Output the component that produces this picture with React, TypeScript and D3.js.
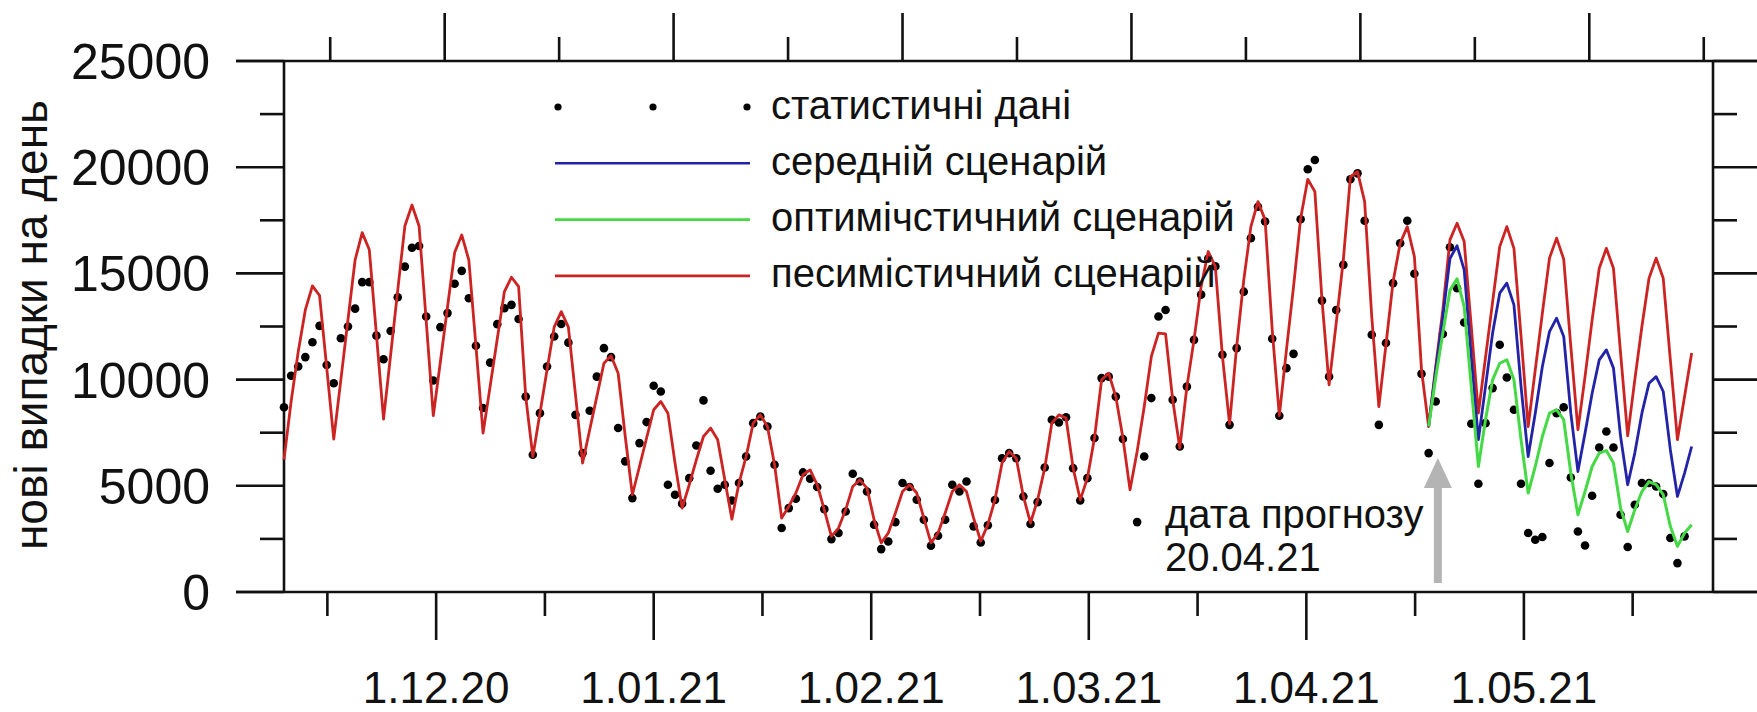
import { useEffect, useRef } from "react";
import * as d3 from "d3";

const WIDTH = 1757;
const HEIGHT = 712;
const FONT = "'Liberation Sans', Arial, sans-serif";

// daily values, day 0 = 10.11.20
const reported: (number | null)[] = [
  8700, 10180, 10620, 11060, 11760, 12530, 10690, 9830, 11950, 12500,
  13340, 14590, 14590, 12070, 10960, 12290, 13880, 15320, 16210, 16290,
  12970, 9960, 12470, 13130, 14510, 15120, 13830, 11590, 8660, 10800,
  12610, 13360, 13520, 12850, 9200, 6460, 8420, 10620, 12030, 12620,
  11740, 8340, 6540, 8530, 10140, 11480, 11060, 7720, 6150, 4420,
  7010, 8000, 9710, 9440, 5050, 4580, 4160, 5360, 6900, 9020,
  5710, 4860, 5050, 4310, 5130, 6380, 7950, 8260, 7790, 5990,
  3010, 3950, 4390, 5630, 5330, 4940, 3900, 2490, 2780, 3790,
  5570, 5200, 4730, 3170, 2020, 2380, 3290, 5130, 4940, 4340,
  3400, 2180, 2650, 3400, 5050, 4730, 5200, 3090, 2330, 3140,
  4330, 6300, 6540, 6300, 4500, 3200, 4230, 5860, 8110, 7980,
  8230, 5830, 4310, 5360, 7250, 10070, 10140, 9200, 7200, null,
  3290, 6380, 9130, 12970, 13280, 9050, 6850, 9670, 11870, 14000,
  15700, 15330, 11170, 7870, 11480, 14140, 16660, 18140, 17440, 11920,
  8300, 10540, 11210, 17550, 19900, 20340, 13720, 10140, 13280, 15400,
  19430, 19710, 17480, 12110, 7870, 11720, 14540, 16420, 17480, 14980,
  10270, 6540, 8970, 12150, 16230, 14300, 12690, 7920, 5100, 7950,
  9600, 11640, 10100, 8580, 5100, 2780, 2460, 2590, 6070, 8420,
  8700, 5390, 2850, 2190, 4530, 6800, 7560, 6800, 3640, 2120,
  4110, 5130, 5130, 4970, 4610, 2540, 1360, 2620,
];

const pessimistic = [
  6230, 8960, 11310, 13280, 14410, 13960, 10590, 7200, 10000, 12830,
  15630, 16920, 16110, 12120, 8140, 11170, 14210, 17230, 18220, 17230,
  12770, 8300, 10850, 13420, 15980, 16810, 15630, 11560, 7480, 9700,
  11920, 14140, 14820, 14380, 9200, 6380, 8420, 10460, 12470, 13200,
  12470, 9280, 6070, 7640, 9200, 10770, 11120, 10300, 7320, 4580,
  5910, 7250, 8580, 8970, 8420, 6070, 3950, 5050, 6220, 7320,
  7720, 7170, 5280, 3430, 5130, 6380, 7950, 8340, 7790, 5990,
  3480, 4030, 4660, 5520, 5750, 5050, 3870, 2620, 3010, 3870,
  4970, 5280, 4890, 3400, 2310, 2780, 3720, 4730, 5050, 4660,
  3480, 2310, 2780, 3720, 4730, 5050, 4730, 3480, 2390, 3170,
  4340, 6070, 6620, 6300, 4500, 3250, 4340, 5830, 7950, 8340,
  8190, 5830, 4340, 5360, 7250, 9990, 10300, 9200, 7250, 4810,
  6620, 8730, 11090, 12190, 12150, 9050, 6780, 9670, 11870, 14380,
  16030, 15320, 11090, 7920, 11560, 14690, 17200, 18380, 17520, 12340,
  8300, 11400, 14380, 17600, 19430, 18850, 13750, 9750, 12660, 15630,
  19550, 19790, 18380, 12970, 8730, 11640, 14610, 16420, 17200, 15790,
  10460, 7790, 10620, 13280, 16580, 17360, 16500, 12500, 8420, 11040,
  13660, 16260, 17200, 16180, 12030, 7790, 10460, 13130, 15720, 16660,
  15670, 11560, 7640, 10140, 12810, 15240, 16180, 15240, 11250, 7350,
  9990, 12500, 14770, 15720, 14770, 10930, 7170, 9200, 11250,
];

// scenarios start on the forecast day (20.04.21)
const forecastStartDay = 161;
const middle = [
  7790, 10450, 12970, 15700, 16300, 15170, 11090, 7170, 9670, 12190,
  14070, 14540, 13520, 9670, 6380, 8420, 10620, 12260, 12890, 12030,
  8420, 5670, 7480, 9360, 10930, 11400, 10540, 7320, 5050, 6540,
  8420, 9830, 10140, 9440, 6700, 4500, 5600, 6850,
];
const optimistic = [
  7790, 10100, 12200, 14200, 14750, 13440, 9670, 5910, 8110, 9990,
  10770, 10930, 9990, 7170, 4660, 5910, 7320, 8420, 8580, 8110,
  5600, 3640, 4730, 5910, 6540, 6660, 6070, 3950, 2850, 3870,
  4730, 5200, 5050, 4580, 3090, 2150, 2780, 3170,
];

const monthLabels = ["1.12.20", "1.01.21", "1.02.21", "1.03.21", "1.04.21", "1.05.21"];
const firstMonthDay = 21.4;
const monthStep = 30.6;
const topFirstTick = 6.5;
const topTickStep = 16.1;
const topTickCount = 13;
const yLabels = [0, 5000, 10000, 15000, 20000, 25000];
const forecastArrowDay = 162.3;
const forecastNote = ["дата прогнозу", "20.04.21"];
const yTitle = "нові випадки на день";

const RED = "#cc2323";
const BLUE = "#2323a8";
const GREEN = "#45d945";

const legendItems = [
  { label: "статистичні дані", kind: "dots", color: "#000" },
  { label: "середній сценарій", kind: "line", color: BLUE },
  { label: "оптимічстичний сценарій", kind: "line", color: GREEN },
  { label: "песимістичний сценарій", kind: "line", color: RED },
];

export default function App() {
  const ref = useRef<SVGSVGElement>(null);

  useEffect(() => {
    const svg = d3.select(ref.current)
      .attr("width", WIDTH)
      .attr("height", HEIGHT);

    svg.selectAll("*").remove();

    const left = 284, right = 1713, top = 61, bottom = 592;

    const x = d3.scaleLinear().domain([0, 201]).range([left, right]);
    const y = d3.scaleLinear().domain([0, 25000]).range([bottom, top]);

    svg.append("rect").attr("width", WIDTH).attr("height", HEIGHT).attr("fill", "#fff");

    const axis = svg.append("g").attr("stroke", "#111").attr("stroke-width", 2.6);

    // frame
    axis.append("line").attr("x1", 236).attr("x2", WIDTH).attr("y1", top).attr("y2", top);
    axis.append("line").attr("x1", 236).attr("x2", WIDTH).attr("y1", bottom).attr("y2", bottom);
    axis.append("line").attr("x1", left).attr("x2", left).attr("y1", top).attr("y2", bottom);
    axis.append("line").attr("x1", right).attr("x2", right).attr("y1", top).attr("y2", bottom);

    // y ticks both sides
    d3.range(0, 25001, 2500).forEach((v) => {
      const major = v % 5000 === 0;
      const len = major ? 48 : 24;
      axis.append("line").attr("x1", left - len).attr("x2", left).attr("y1", y(v)).attr("y2", y(v));
      axis.append("line").attr("x1", right).attr("x2", right + len).attr("y1", y(v)).attr("y2", y(v));
    });

    // top ticks (own spacing)
    d3.range(topTickCount).forEach((i) => {
      const xx = x(topFirstTick + i * topTickStep);
      const len = i % 2 === 1 ? 48 : 24;
      axis.append("line").attr("x1", xx).attr("x2", xx).attr("y1", top).attr("y2", top - len);
    });

    // bottom ticks, months and half months
    d3.range(monthLabels.length * 2 + 1).forEach((k) => {
      const xx = x(firstMonthDay - monthStep / 2 + (k * monthStep) / 2);
      const len = k % 2 === 1 ? 48 : 24;
      axis.append("line").attr("x1", xx).attr("x2", xx).attr("y1", bottom).attr("y2", bottom + len);
    });

    svg.append("g")
      .selectAll("text")
      .data(yLabels)
      .join("text")
      .attr("x", 210)
      .attr("y", (d) => y(d) + 18)
      .attr("text-anchor", "end")
      .attr("font-family", FONT)
      .attr("font-size", 50)
      .attr("fill", "#111")
      .text((d) => d);

    svg.append("g")
      .selectAll("text")
      .data(monthLabels)
      .join("text")
      .attr("x", (_, i) => x(firstMonthDay + i * monthStep))
      .attr("y", 703)
      .attr("text-anchor", "middle")
      .attr("font-family", FONT)
      .attr("font-size", 44)
      .attr("fill", "#111")
      .text((d) => d);

    svg.append("text")
      .attr("transform", "translate(47,325) rotate(-90)")
      .attr("text-anchor", "middle")
      .attr("font-family", FONT)
      .attr("font-size", 46)
      .attr("fill", "#111")
      .text(yTitle);

    // data points
    const points = reported
      .map((v, i) => ({ day: i, v }))
      .filter((d) => d.v !== null) as { day: number; v: number }[];

    svg.append("g")
      .selectAll("circle")
      .data(points)
      .join("circle")
      .attr("cx", (d) => x(d.day))
      .attr("cy", (d) => y(d.v))
      .attr("r", 4.3)
      .attr("fill", "#000");

    const line = d3.line<number>()
      .x((_, i) => x(i))
      .y((d) => y(d));

    const scenarioLine = d3.line<number>()
      .x((_, i) => x(forecastStartDay + i))
      .y((d) => y(d));

    svg.append("path").attr("d", line(pessimistic)).attr("fill", "none")
      .attr("stroke", RED).attr("stroke-width", 2.8).attr("stroke-linejoin", "round");
    svg.append("path").attr("d", scenarioLine(middle)).attr("fill", "none")
      .attr("stroke", BLUE).attr("stroke-width", 2.8).attr("stroke-linejoin", "round");
    svg.append("path").attr("d", scenarioLine(optimistic)).attr("fill", "none")
      .attr("stroke", GREEN).attr("stroke-width", 3).attr("stroke-linejoin", "round");

    // legend
    const legend = svg.append("g");
    legendItems.forEach((item, i) => {
      const cy = 107 + i * 56.3;
      if (item.kind === "dots") {
        [558, 653, 747].forEach((cx) =>
          legend.append("circle").attr("cx", cx).attr("cy", cy).attr("r", 3.6).attr("fill", "#000"));
      } else {
        legend.append("line").attr("x1", 555).attr("x2", 750).attr("y1", cy).attr("y2", cy)
          .attr("stroke", item.color).attr("stroke-width", 2.6);
      }
      legend.append("text")
        .attr("x", 771)
        .attr("y", cy + 11.5)
        .attr("font-family", FONT)
        .attr("font-size", 40)
        .attr("fill", "#111")
        .text(item.label);
    });

    // forecast date arrow
    const ax = x(forecastArrowDay);
    svg.append("line").attr("x1", ax).attr("x2", ax).attr("y1", 583).attr("y2", 484)
      .attr("stroke", "#b4b4b4").attr("stroke-width", 8);
    svg.append("path")
      .attr("d", `M${ax},458 L${ax + 14},488 L${ax - 14},488 Z`)
      .attr("fill", "#b4b4b4");

    forecastNote.forEach((t, i) => {
      svg.append("text")
        .attr("x", 1165)
        .attr("y", 528 + i * 43)
        .attr("font-family", FONT)
        .attr("font-size", 40)
        .attr("fill", "#111")
        .text(t);
    });
  }, []);

  return (
    <div style={{ position: "absolute", left: 0, top: 0 }}>
      <svg ref={ref} style={{ display: "block" }}></svg>
    </div>
  );
}
